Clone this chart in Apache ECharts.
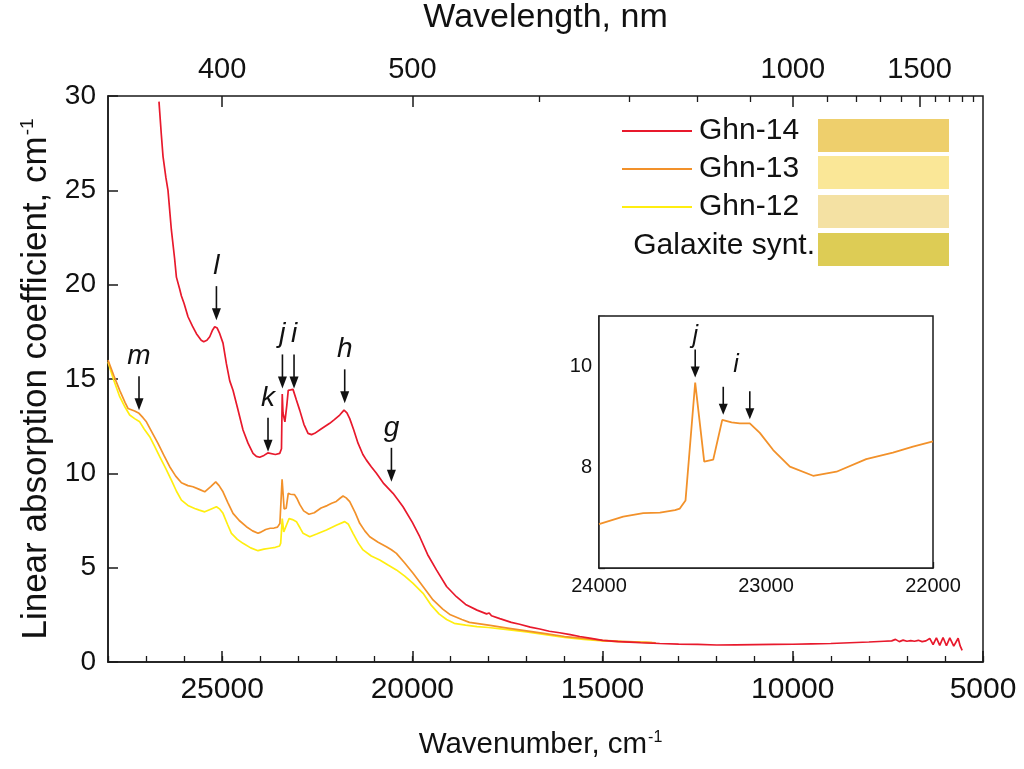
<!DOCTYPE html>
<html>
<head>
<meta charset="utf-8">
<script src="https://cdn.jsdelivr.net/npm/echarts@6/dist/echarts.min.js"></script>
<style>
html,body{margin:0;padding:0;background:#fff;}
#chart{width:1024px;height:769px;}
</style>
</head>
<body>
<div id="chart"></div>
<script>
// ---------------- data ----------------
const ghn14Wn  = [26660,26600,26554,26480,26423,26334,26250,26202,26120,26070,26000,25897,25780,25676,25550,25484,25400,25326,25250,25195,25130,25063,24977,24887,24800,24714,24600,24451,24320,24188,24100,24012,23900,23800,23749,23600,23486,23440,23420,23400,23350,23300,23262,23200,23137,23050,22961,22850,22742,22650,22566,22400,22172,22050,21909,21796,21720,21646,21540,21428,21300,21207,21080,20944,20750,20508,20380,20245,20000,19806,19600,19367,19100,18841,18600,18300,18050,17980,17920,17700,17400,17180,16900,16650,16400,16130,15850,15600,15300,15000,14600,14290,14000,13500,13000,12500,12000,11500,11000,10500,10000,9500,9000,8500,8000,7600,7400,7300,7200,7100,7000,6900,6800,6700,6600,6500,6400,6312,6225,6137,6050,5961,5873,5769,5654,5600,5548];
const ghn14Abs = [29.7,28.0,26.8,25.7,25.0,22.9,21.4,20.4,19.8,19.4,19.0,18.3,17.8,17.4,17.05,16.97,17.05,17.24,17.6,17.77,17.7,17.4,16.9,15.8,14.9,14.4,13.5,12.3,11.6,11.06,10.9,10.85,10.95,11.08,11.09,11.0,11.06,11.3,14.2,13.2,12.73,13.6,14.4,14.42,14.45,13.9,13.35,12.6,12.12,12.05,12.12,12.35,12.65,12.85,13.09,13.35,13.2,12.9,12.3,11.6,11.0,10.7,10.35,10.0,9.45,8.94,8.6,8.23,7.4,6.64,5.7,4.88,4.0,3.46,3.05,2.75,2.55,2.6,2.45,2.3,2.1,2.0,1.85,1.75,1.63,1.55,1.45,1.35,1.25,1.15,1.08,1.05,1.02,0.98,0.95,0.93,0.9,0.91,0.92,0.93,0.94,0.96,0.98,1.02,1.06,1.1,1.12,1.2,1.08,1.16,1.1,1.13,1.1,1.15,1.08,1.12,1.25,0.92,1.28,0.88,1.3,0.86,1.28,0.84,1.26,0.85,0.62];

const ghn13Wn  = [28000,27850,27692,27550,27474,27300,27185,27080,26991,26850,26686,26530,26378,26220,26070,25900,25766,25600,25458,25300,25169,25080,24977,24850,24714,24550,24362,24200,24057,24000,23855,23735,23635,23545,23516,23482,23424,23370,23316,23262,23206,23157,23097,23037,22957,22857,22718,22578,22400,22240,22120,22000,21900,21822,21740,21646,21500,21383,21250,21120,20900,20682,20550,20419,20200,19981,19700,19456,19200,19000,18700,18500,18000,17500,17000,16500,16000,15500,15000,14500,14000,13600];
const ghn13Abs = [16.0,15.2,14.4,13.75,13.44,13.3,13.18,12.95,12.73,12.2,11.59,10.95,10.35,9.85,9.5,9.35,9.29,9.15,9.02,9.3,9.55,9.35,9.02,8.45,7.88,7.5,7.17,6.95,6.82,6.87,7.02,7.09,7.1,7.15,7.18,7.34,9.68,8.11,8.15,8.94,8.89,8.87,8.87,8.68,8.34,8.01,7.83,7.91,8.16,8.29,8.41,8.51,8.68,8.8,8.7,8.5,7.9,7.35,6.95,6.64,6.35,6.11,5.95,5.76,5.25,4.7,3.95,3.29,2.8,2.5,2.25,2.1,1.95,1.8,1.65,1.5,1.35,1.25,1.15,1.1,1.05,1.02];

const ghn12Wn  = [28000,27850,27692,27550,27430,27300,27167,27050,26904,26780,26641,26480,26334,26200,26070,25900,25721,25600,25458,25300,25150,25060,24977,24860,24756,24600,24451,24250,24057,23900,23749,23600,23490,23460,23420,23380,23354,23300,23240,23150,23047,22950,22872,22697,22500,22258,22000,21778,21680,21559,21420,21296,21080,20857,20650,20419,20200,19981,19718,19500,19300,19100,18900,18600,18300,18000,17500,17000,16500,16000,15500,15000,14500,14000,13700];
const ghn12Abs = [15.9,14.95,14.06,13.5,13.09,12.9,12.73,12.35,11.94,11.45,10.88,10.25,9.64,9.05,8.58,8.3,8.14,8.05,7.96,8.1,8.23,8.1,7.88,7.3,6.82,6.5,6.29,6.05,5.9,5.98,6.03,6.08,6.15,6.3,7.6,6.9,7.0,7.3,7.6,7.55,7.44,7.1,6.82,6.64,6.8,7.0,7.25,7.44,7.3,6.82,6.3,5.94,5.62,5.41,5.15,4.88,4.55,4.17,3.64,3.0,2.55,2.25,2.05,1.95,1.88,1.83,1.72,1.6,1.45,1.3,1.2,1.12,1.08,1.05,1.03];

const seriesNames = ['Ghn-14','Ghn-13','Ghn-12'];
const topMajorNm = [400,500,1000,1500];
const topMinorNm = [600,700,800,900,1100,1200,1300,1400,1600,1700,1800,1900];

const annLabels = ['m','l','k','j','i','h','g'];
const annWn     = [27185,25150,23794,23415,23110,21778,20550];
const annTip    = [13.35,18.12,11.14,14.5,14.5,13.71,9.55];

const insetArrowWn  = [23424,23256,23097];
const insetArrowTip = [9.78,9.04,8.95];
const insetArrowLbl = ['j','',''];
const insetExtraLbl = [['i',23180,10.03]];

const swatchNames = ['Ghn-14','Ghn-13','Ghn-12','Galaxite synt.'];

// ---------------- chart ----------------
const FONT = '"Liberation Sans", Arial, sans-serif';
const zip = (a,b) => a.map((v,i)=>[v,b[i]]);
const plain = (v) => String(v);
const chart = echarts.init(document.getElementById('chart'), null, {renderer:'canvas'});

const G0 = {left:108, top:96, width:875, height:566};
const G1 = {left:599, top:316, width:334, height:252};

function arrowItem(x, y, len, head, lbl, lblOff, fsize){
  const ch = [
    {type:'line', shape:{x1:x,y1:y-len,x2:x,y2:y-head+1}, style:{stroke:'#111',lineWidth:1.6}},
    {type:'polygon', shape:{points:[[x-4.5,y-head],[x+4.5,y-head],[x,y]]}, style:{fill:'#111'}}
  ];
  if (lbl) ch.push({type:'text', x:x, y:y-lblOff, style:{text:lbl, font:'italic '+fsize+'px '+FONT, fill:'#111', align:'center', verticalAlign:'middle'}});
  return {type:'group', children:ch};
}

const option = {
  animation:false,
  backgroundColor:'#fff',
  grid:[
    Object.assign({show:true, outerBoundsMode:'none', containLabel:false, borderColor:'#1a1a1a', borderWidth:1.5, backgroundColor:'transparent'}, G0),
    Object.assign({show:true, outerBoundsMode:'none', containLabel:false, borderColor:'#1a1a1a', borderWidth:1.5, backgroundColor:'#fff', z:5}, G1)
  ],
  legend:{
    data:seriesNames, orient:'vertical', left:622, top:116, padding:0,
    itemWidth:70, itemHeight:2, itemGap:8, icon:'rect',
    textStyle:{fontFamily:FONT, fontSize:30, color:'#111', lineHeight:30, padding:[0,0,0,2]}
  },
  xAxis:[
    { // 0 bottom major
      type:'value', gridIndex:0, position:'bottom', min:5000, max:28000, interval:5000, inverse:true,
      name:'Wavenumber, cm{sup|-1}', nameLocation:'middle', nameGap:68,
      nameTextStyle:{fontFamily:FONT, fontSize:29.5, color:'#111', padding:[0,10,0,0], rich:{sup:{fontSize:16, fontFamily:FONT, verticalAlign:'top', padding:[0,0,14,1]}}},
      axisLine:{show:true, lineStyle:{color:'#1a1a1a', width:1.5}},
      axisTick:{show:true, inside:true, length:11, lineStyle:{color:'#1a1a1a', width:1.5}},
      axisLabel:{show:true, fontFamily:FONT, fontSize:30, color:'#111', margin:13, showMaxLabel:false, formatter:plain},
      splitLine:{show:false}
    },
    { // 1 bottom minor
      type:'value', gridIndex:0, position:'bottom', min:5000, max:28000, interval:1000, inverse:true,
      axisLine:{show:false}, axisTick:{show:true, inside:true, length:6, lineStyle:{color:'#1a1a1a', width:1.3}},
      axisLabel:{show:false}, splitLine:{show:false}
    },
    { // 2 top major
      type:'value', gridIndex:0, position:'top', min:5000, max:28000, inverse:true,
      name:'Wavelength, nm', nameLocation:'middle', nameGap:61,
      nameTextStyle:{fontFamily:FONT, fontSize:34, color:'#111'},
      axisLine:{show:false},
      axisTick:{show:true, inside:true, length:11, customValues:topMajorNm.map(n=>1e7/n), lineStyle:{color:'#1a1a1a', width:1.5}},
      axisLabel:{show:true, customValues:topMajorNm.map(n=>1e7/n), fontFamily:FONT, fontSize:29, color:'#111', margin:12, formatter:(v)=>String(Math.round(1e7/v))},
      splitLine:{show:false}
    },
    { // 3 top minor
      type:'value', gridIndex:0, position:'top', min:5000, max:28000, inverse:true,
      axisLine:{show:false},
      axisTick:{show:true, inside:true, length:6, customValues:topMinorNm.map(n=>1e7/n), lineStyle:{color:'#1a1a1a', width:1.3}},
      axisLabel:{show:false}, splitLine:{show:false}
    },
    { // 4 inset
      type:'value', gridIndex:1, min:22000, max:24000, interval:1000, inverse:true,
      axisLine:{show:true, lineStyle:{color:'#1a1a1a', width:1.5}},
      axisTick:{show:true, inside:true, length:6, lineStyle:{color:'#1a1a1a', width:1.3}},
      minorTick:{show:true, splitNumber:5, length:4, lineStyle:{color:'#1a1a1a', width:1.2}},
      axisLabel:{show:true, fontFamily:FONT, fontSize:20, color:'#111', margin:8, formatter:plain},
      splitLine:{show:false}, minorSplitLine:{show:false}
    }
  ],
  yAxis:[
    {
      type:'value', gridIndex:0, min:0, max:30, interval:5,
      name:'Linear absorption coefficient, cm{sup|-1}', nameLocation:'middle', nameGap:49,
      nameTextStyle:{fontFamily:FONT, fontSize:35, color:'#111', rich:{sup:{fontSize:19, fontFamily:FONT, verticalAlign:'top', padding:[0,0,18,1]}}},
      axisLine:{show:true, lineStyle:{color:'#1a1a1a', width:1.5}},
      axisTick:{show:true, inside:true, length:10, lineStyle:{color:'#1a1a1a', width:1.5}},
      axisLabel:{fontFamily:FONT, fontSize:28, color:'#111', margin:12, formatter:plain},
      splitLine:{show:false}
    },
    {
      type:'value', gridIndex:1, min:6, max:11, interval:1,
      axisLine:{show:true, lineStyle:{color:'#1a1a1a', width:1.5}},
      axisTick:{show:true, inside:true, length:6, lineStyle:{color:'#1a1a1a', width:1.3}},
      axisLabel:{fontFamily:FONT, fontSize:20, color:'#111', margin:7, formatter:(v)=> (v===8||v===10)? String(v) : ''},
      splitLine:{show:false}
    }
  ],
  graphic:[
    {type:'rect', left:818, top:119, shape:{width:131,height:33}, style:{fill:'#EECF6C'}},
    {type:'rect', left:818, top:156, shape:{width:131,height:33}, style:{fill:'#FAE797'}},
    {type:'rect', left:818, top:195, shape:{width:131,height:33}, style:{fill:'#F4E1A3'}},
    {type:'rect', left:818, top:233, shape:{width:131,height:33}, style:{fill:'#DDCC55'}},
    {type:'text', right:1024-815, top:231, style:{text:swatchNames[3], font:'30px '+FONT, fill:'#111'}}
  ],
  series:[
    {name:seriesNames[2], type:'line', xAxisIndex:0, yAxisIndex:0, data:zip(ghn12Wn,ghn12Abs), showSymbol:false, lineStyle:{color:'#FFEE10', width:1.7}, itemStyle:{color:'#FFEE10'}, z:2},
    {name:seriesNames[1], type:'line', xAxisIndex:0, yAxisIndex:0, data:zip(ghn13Wn,ghn13Abs), showSymbol:false, lineStyle:{color:'#F2912A', width:1.7}, itemStyle:{color:'#F2912A'}, z:3},
    {name:seriesNames[0], type:'line', xAxisIndex:0, yAxisIndex:0, data:zip(ghn14Wn,ghn14Abs), showSymbol:false, lineStyle:{color:'#E8192C', width:1.7}, itemStyle:{color:'#E8192C'}, z:4},
    {name:'inset', type:'line', xAxisIndex:4, yAxisIndex:1, data:zip(ghn13Wn,ghn13Abs).filter(p=>p[0]>=22000&&p[0]<=24000), showSymbol:false, lineStyle:{color:'#F2912A', width:1.8}, z:6},
    {type:'custom', xAxisIndex:0, yAxisIndex:0, clip:false, z:7, silent:true,
      data:annWn.map((w,i)=>[w,annTip[i]]),
      renderItem:(params, api)=>{
        const p = api.coord([api.value(0), api.value(1)]);
        return arrowItem(p[0], p[1], 34, 12, annLabels[params.dataIndex], 54, 28);
      }
    },
    {type:'custom', xAxisIndex:4, yAxisIndex:1, clip:false, z:8, silent:true,
      data:insetArrowWn.map((w,i)=>[w,insetArrowTip[i]]),
      renderItem:(params, api)=>{
        const p = api.coord([api.value(0), api.value(1)]);
        return arrowItem(p[0], p[1], 28, 11, insetArrowLbl[params.dataIndex], 41, 25);
      }
    },
    {type:'custom', xAxisIndex:4, yAxisIndex:1, clip:false, z:8, silent:true,
      data:insetExtraLbl.map(d=>[d[1],d[2]]),
      renderItem:(params, api)=>{
        const p = api.coord([api.value(0), api.value(1)]);
        return {type:'text', x:p[0], y:p[1], style:{text:insetExtraLbl[params.dataIndex][0], font:'italic 25px '+FONT, fill:'#111', align:'center', verticalAlign:'middle'}};
      }
    }
  ]
};
chart.setOption(option);
</script>
</body>
</html>
